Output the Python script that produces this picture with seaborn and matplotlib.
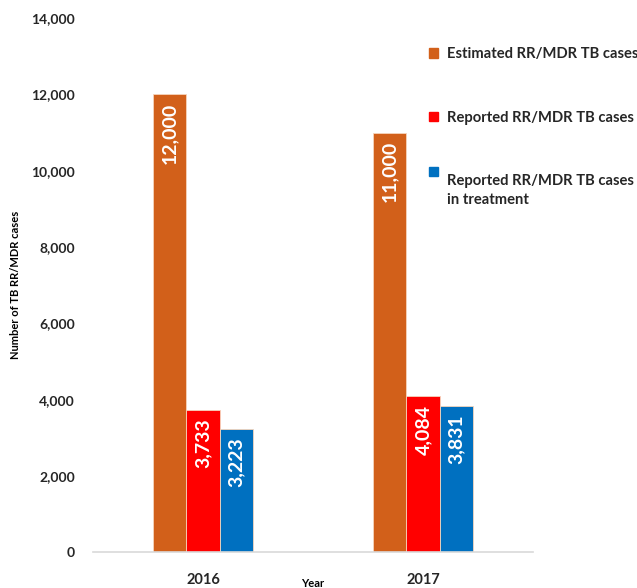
import pandas as pd
import numpy as np
import matplotlib.pyplot as plt
import seaborn as sns
from matplotlib.ticker import FuncFormatter

# chart data --->
years = ["2016", "2017"]
estimated_cases = [12000, 11000]
reported_cases = [3733, 4084]
treatment_cases = [3223, 3831]

series_names = ["Estimated RR/MDR TB cases",
                "Reported RR/MDR TB cases",
                "Reported RR/MDR TB cases\nin treatment"]
series_colors = ["#D2601A", "#FF0000", "#0070C0"]

# long format for seaborn --->
tb_df = pd.DataFrame({
    "Year": years * 3,
    "Cases": estimated_cases + reported_cases + treatment_cases,
    "Series": [series_names[0]] * 2 + [series_names[1]] * 2 + [series_names[2]] * 2,
})

sns.set_style("white")
plt.rcParams['font.family'] = ['Lato', 'DejaVu Sans']

fig = plt.figure(figsize=(6.37, 5.88), dpi=100)
ax = fig.add_axes([0.146, 0.061, 0.691, 0.908])

sns.barplot(data=tb_df, x="Year", y="Cases", hue="Series", hue_order=series_names,
            palette=series_colors, saturation=1, width=0.455, gap=0, errorbar=None,
            edgecolor="#F6D5BC", linewidth=0.6, ax=ax, legend=False)

# value labels inside bars --->
for container in ax.containers:
    for bar in container:
        h = bar.get_height()
        ax.annotate(f"{h:,.0f}", (bar.get_x() + bar.get_width() / 2, h),
                    xytext=(0, -6), textcoords="offset points",
                    rotation=90, ha="center", va="top", color="white",
                    fontsize=14, fontweight="bold")

ax.set_ylim(0, 14000)
ax.set_xlim(-0.5, 1.5)
ax.set_yticks(np.arange(0, 14001, 2000))
ax.yaxis.set_major_formatter(FuncFormatter(lambda v, p: f"{v:,.0f}"))
ax.tick_params(axis="y", length=0, pad=13, labelsize=10, labelcolor="#262626")
ax.tick_params(axis="x", length=0, pad=15, labelsize=10.5, labelcolor="#262626")
for lab in ax.get_xticklabels() + ax.get_yticklabels():
    lab.set_fontweight("bold")

for s in ["top", "right", "left"]:
    ax.spines[s].set_visible(False)
ax.spines["bottom"].set_color("#D9D9D9")
ax.spines["bottom"].set_linewidth(1.2)

ax.set_xlabel("Year", fontsize=8, fontweight="bold", color="black")
ax.xaxis.set_label_coords(0.5, -0.049)
ax.set_ylabel("Number of TB RR/MDR cases", fontsize=8, fontweight="bold", color="black")
ax.yaxis.set_label_coords(-0.163, 0.5)

# legend on the right --->
handles = [plt.Rectangle((0, 0), 1, 1, color=c) for c in series_colors]
leg = fig.legend(handles, series_names, loc="upper left", bbox_to_anchor=(0.653, 0.942),
                 frameon=False, handlelength=0.6, handleheight=0.6, handletextpad=0.6,
                 labelspacing=3.35, prop={"size": 10.6, "weight": "bold"})
for t in leg.get_texts():
    t.set_color("#262626")
    t.set_linespacing(1.45)
# put the square of the two-line entry next to its first line
last_handle = leg.legend_handles[2]
last_handle.set_y(last_handle.get_y() + 10.6 * 1.3)

plt.savefig("out.png", dpi=100)
